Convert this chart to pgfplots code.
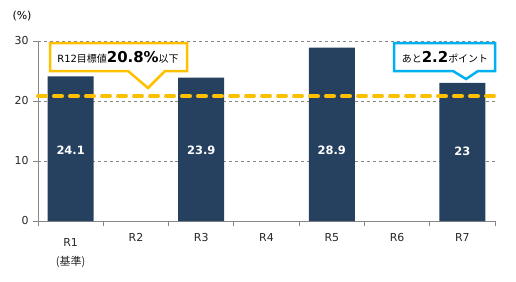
\documentclass[border=0pt]{standalone}
\usepackage{pgfplots}
\pgfplotsset{compat=1.18}
\usepackage{fontspec}
\setmainfont{DejaVu Sans}
\newfontfamily\cjk{Noto Sans CJK JP}
\definecolor{barblue}{RGB}{38,64,96}
\definecolor{gold}{RGB}{255,192,0}
\definecolor{sky}{RGB}{0,176,240}
\definecolor{gridgray}{RGB}{134,134,134}
\begin{document}
\begin{tikzpicture}[x=1bp,y=1bp]
\path[use as bounding box] (0,0) rectangle (516,281);
\begin{axis}[
  at={(38bp,60bp)}, anchor=south west,
  scale only axis, width=457bp, height=180bp,
  xmin=-0.5, xmax=6.5, ymin=0, ymax=30,
  axis x line*=bottom, axis y line*=left,
  axis line style={gridgray, line width=0.8bp},
  ytick={0,10,20,30},
  ymajorgrids, grid style={dashed, gridgray, line width=0.6bp},
  xtick={0,...,6},
  xticklabels={{\rule{0pt}{13bp}R1\\[1bp]{\cjk (基準)}},R2,R3,R4,R5,R6,R7},
  minor xtick={-0.5,0.5,...,6.5},
  tick align=outside,
  major tick length=5bp, minor tick length=5bp,
  major x tick style={draw=none},
  minor x tick style={gridgray, line width=0.8bp},
  major y tick style={gridgray, line width=0.8bp},
  /pgf/number format/assume math mode=true,
  tick label style={font=\fontsize{11}{18}\selectfont, black!85},
  xticklabel style={align=center, yshift=-4bp},
  yticklabel style={xshift=-1bp},
  clip=false,
]
\addplot[ybar, fill=barblue, draw=none, bar width=46bp]
  coordinates {(0,24.1) (2,23.9) (4,28.9) (6,23)};
\addplot[gold, line width=4bp, dash pattern=on 8bp off 8bp, line cap=round]
  coordinates {(-0.5,20.8) (6.5,20.8)};
\addplot[draw=none, mark=none, nodes near coords, point meta=explicit symbolic,
  nodes near coords style={anchor=center, white, font=\fontsize{11.5}{13}\selectfont\bfseries}]
  coordinates {(0,11.8)[24.1] (2,11.8)[23.9] (4,11.8)[28.9] (6,11.6)[23]};
\end{axis}
\node at (22,265) {\fontsize{11}{13}\selectfont (\%)};
\draw[gold, line width=2.5bp, fill=white, line join=miter]
  (50,238) -- (187,238) -- (187,210) -- (165,210) -- (148,193) -- (128,210) -- (50,210) -- cycle;
\node at (118,224) {\fontsize{10}{12}\selectfont R12{\cjk 目標値}\fontsize{15}{17}\selectfont\bfseries 20.8\%\fontsize{10}{12}\selectfont\mdseries{\cjk 以下}};
\draw[sky, line width=2.5bp, fill=white, line join=miter]
  (394,238) -- (495,238) -- (495,210) -- (478,210) -- (466,202) -- (453,210) -- (394,210) -- cycle;
\node at (445,224) {\fontsize{10}{12}\selectfont{\cjk あと}\fontsize{15}{17}\selectfont\bfseries 2.2\fontsize{10}{12}\selectfont\mdseries{\cjk ポイント}};
\end{tikzpicture}
\end{document}
